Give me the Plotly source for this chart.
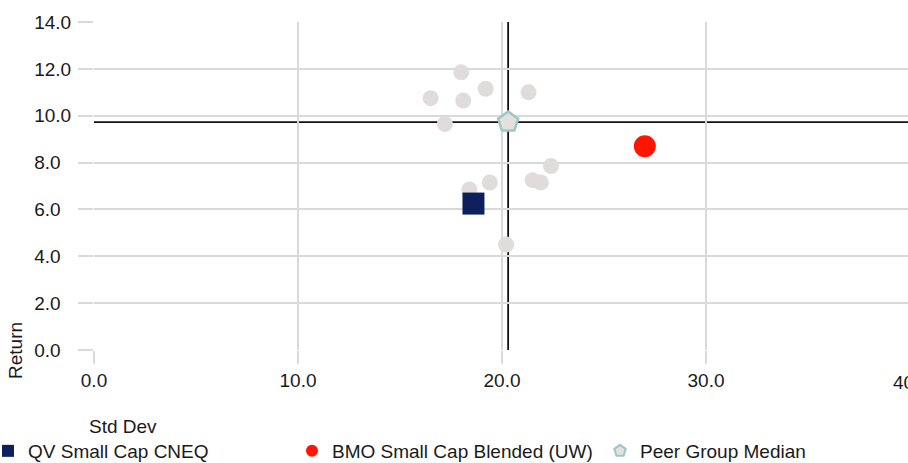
import plotly.graph_objects as go

# Risk / return scatter: standard deviation vs. return
peer_std = [18.0, 16.5, 18.1, 19.2, 21.3, 17.2, 18.4, 19.4, 21.5, 21.9, 22.4, 20.2]
peer_ret = [11.85, 10.75, 10.65, 11.15, 11.0, 9.65, 6.85, 7.15, 7.25, 7.15, 7.85, 4.5]

fund_name = "QV Small Cap CNEQ"
fund_std = [18.6]
fund_ret = [6.25]

bench_name = "BMO Small Cap Blended (UW)"
bench_std = [27.0]
bench_ret = [8.7]

median_name = "Peer Group Median"
median_std = [20.3]
median_ret = [9.73]

x_ticks = [0, 10, 20, 30]
x_ticktext = ["0.0", "10.0", "20.0", "30.0"]
y_ticks = [0, 2, 4, 6, 8, 10, 12, 14]
y_ticktext = ["0.0\u2007", "2.0\u2007", "4.0\u2007", "6.0\u2007", "8.0\u2007", "10.0", "12.0", "14.0"]

FONT = "Liberation Sans, Arial, sans-serif"
GRID = "#d9d9d9"
TEXT = "#1a1a1a"
PLOT_W = 814
PLOT_H = 328

fig = go.Figure()

fig.add_trace(go.Scatter(
    x=peer_std, y=peer_ret, mode="markers", showlegend=False, hoverinfo="x+y",
    marker=dict(size=16, color="#e0dcdb", line=dict(width=0)),
))
fig.add_trace(go.Scatter(
    x=median_std, y=median_ret, mode="markers", name=median_name, legend="legend2",
    marker=dict(symbol="pentagon", size=21, color="#e3e0df",
                line=dict(width=2.5, color="#9ec6c7")),
))
fig.add_trace(go.Scatter(
    x=fund_std, y=fund_ret, mode="markers", name=fund_name,
    marker=dict(symbol="square", size=22, color="#0d1f5c", line=dict(width=0)),
))
fig.add_trace(go.Scatter(
    x=bench_std, y=bench_ret, mode="markers", name=bench_name,
    marker=dict(symbol="circle", size=22, color="#ff1500", line=dict(width=0)),
))

# Median crosshair
fig.add_shape(type="line", xref="paper", yref="y", x0=0, x1=1,
              y0=median_ret[0], y1=median_ret[0],
              line=dict(color="#111111", width=1.8), layer="below")
fig.add_shape(type="line", xref="x", yref="y", x0=median_std[0], x1=median_std[0],
              y0=-0.1, y1=14, line=dict(color="#111111", width=1.8), layer="below")

legend_common = dict(orientation="h", xanchor="left", yanchor="middle",
                     traceorder="normal", font=dict(size=19, color=TEXT),
                     itemsizing="constant", bgcolor="rgba(0,0,0,0)")

fig.update_layout(
    width=908, height=463,
    margin=dict(l=94, r=0, t=22, b=113, autoexpand=False),
    paper_bgcolor="white", plot_bgcolor="white",
    font=dict(family=FONT, size=19, color=TEXT),
    xaxis=dict(range=[0, 39.9], tickvals=x_ticks, ticktext=x_ticktext,
               showgrid=True, gridcolor=GRID, gridwidth=1.5, zeroline=False,
               showline=False, ticks="outside", ticklen=13, tickcolor=GRID,
               tickwidth=1.5, fixedrange=True),
    yaxis=dict(range=[0, 14], tickvals=y_ticks, ticktext=y_ticktext,
               showgrid=True, gridcolor=GRID, gridwidth=1.5, zeroline=False,
               showline=False, ticks="outside", ticklen=15, tickcolor=GRID,
               tickwidth=1.5, ticklabelstandoff=3, fixedrange=True),
    legend=dict(x=-106 / PLOT_W, y=-101 / PLOT_H, entrywidth=259,
                entrywidthmode="pixels", **legend_common),
    legend2=dict(x=(-106 + 612) / PLOT_W, y=-101 / PLOT_H, **legend_common),
    annotations=[
        dict(text="Std Dev", xref="paper", yref="paper", x=-7 / PLOT_W, y=-76 / PLOT_H,
             xanchor="left", yanchor="middle", showarrow=False,
             font=dict(size=19, color=TEXT)),
        dict(text="Return", xref="paper", yref="paper", x=-78 / PLOT_W, y=-1 / PLOT_H,
             xanchor="center", yanchor="middle", textangle=-90, showarrow=False,
             font=dict(size=19, color=TEXT)),
        # Last tick label sits at the right edge of the canvas
        dict(text="40.0", xref="paper", yref="paper", x=(912 - 94) / PLOT_W, y=-32 / PLOT_H,
             xanchor="center", yanchor="middle", showarrow=False,
             font=dict(size=19, color=TEXT)),
    ],
)

# legend order: fund, benchmark
fig.data[2].legendrank = 1
fig.data[3].legendrank = 2

fig.write_html("out.html")
